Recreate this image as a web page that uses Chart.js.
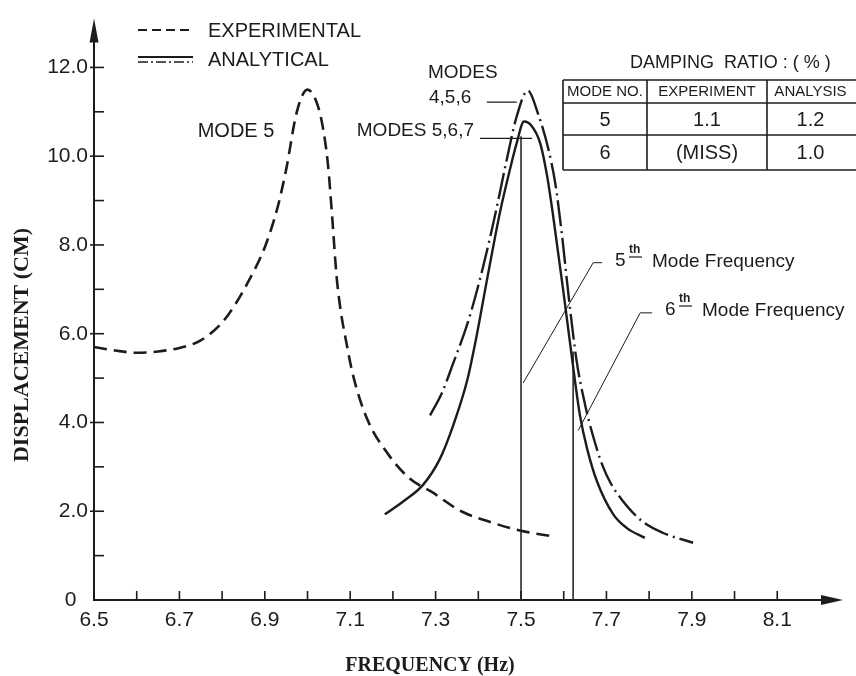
<!DOCTYPE html>
<html>
<head>
<meta charset="utf-8">
<script src="https://cdn.jsdelivr.net/npm/chart.js@4.4.1/dist/chart.umd.min.js"></script>
<style>
  body { margin: 0; background: #fff; }
</style>
</head>
<body>
<canvas id="chart" width="856" height="676"></canvas>
<script>
// tick labels
const xTickLabels = ['6.5', '6.7', '6.9', '7.1', '7.3', '7.5', '7.7', '7.9', '8.1'];
const yTickLabels = ['0', '2.0', '4.0', '6.0', '8.0', '10.0', '12.0'];

// experimental response (dashed)
const expFreq = [6.50, 6.55, 6.60, 6.65, 6.70, 6.75, 6.80, 6.83, 6.86, 6.90, 6.93, 6.95, 6.975, 7.00, 7.02, 7.035, 7.048, 7.058, 7.068, 7.078, 7.09, 7.107, 7.14, 7.19, 7.24, 7.29, 7.36, 7.43, 7.50, 7.57];
const expDisp = [5.70, 5.62, 5.57, 5.60, 5.68, 5.85, 6.25, 6.65, 7.15, 7.95, 8.85, 9.70, 11.0, 11.50, 11.25, 10.70, 9.80, 8.60, 7.30, 6.50, 5.85, 5.05, 4.07, 3.27, 2.73, 2.44, 2.00, 1.75, 1.56, 1.44];

// analytical, modes 4,5,6 (dash-dot)
const ana456Freq = [7.287, 7.315, 7.341, 7.376, 7.411, 7.441, 7.465, 7.490, 7.516, 7.540, 7.563, 7.580, 7.595, 7.612, 7.630, 7.650, 7.670, 7.690, 7.710, 7.737, 7.783, 7.833, 7.903];
const ana456Disp = [4.16, 4.67, 5.33, 6.27, 7.50, 8.75, 9.85, 10.90, 11.48, 10.95, 10.20, 9.40, 8.30, 6.80, 5.40, 4.40, 3.65, 3.05, 2.63, 2.25, 1.78, 1.51, 1.29];

// analytical, modes 5,6,7 (solid)
const ana567Freq = [7.181, 7.224, 7.271, 7.310, 7.341, 7.374, 7.395, 7.420, 7.451, 7.474, 7.490, 7.507, 7.525, 7.545, 7.561, 7.575, 7.603, 7.627, 7.638, 7.655, 7.678, 7.716, 7.748, 7.790];
const ana567Disp = [1.93, 2.22, 2.60, 3.18, 3.93, 4.95, 5.90, 7.20, 8.75, 9.70, 10.30, 10.78, 10.68, 10.29, 9.56, 8.67, 6.67, 4.89, 4.16, 3.40, 2.67, 1.93, 1.62, 1.40];

// mode frequency markers and leader lines
const mode5Freq = [7.5, 7.5];
const mode5Disp = [0, 10.45];
const mode6Freq = [7.622, 7.622];
const mode6Disp = [0, 5.6];
const lead5Freq = [7.505, 7.669, 7.69];
const lead5Disp = [4.89, 7.6, 7.6];
const lead6Freq = [7.634, 7.779, 7.807];
const lead6Disp = [3.82, 6.47, 6.47];
const lead456Freq = [7.42, 7.49];
const lead456Disp = [11.22, 11.22];
const lead567Freq = [7.404, 7.526];
const lead567Disp = [10.4, 10.4];

// damping table
const tableHead = ['MODE NO.', 'EXPERIMENT', 'ANALYSIS'];
const tableRows = [['5', '1.1', '1.2'], ['6', '(MISS)', '1.0']];

const ink = '#1c1c1c';
const pts = (xs, ys) => xs.map((v, i) => ({ x: v, y: ys[i] }));

function curve(xs, ys, dash, width) {
  return {
    data: pts(xs, ys),
    borderColor: ink,
    borderWidth: width,
    borderDash: dash,
    pointRadius: 0,
    tension: 0.4,
    cubicInterpolationMode: 'monotone',
  };
}
function straight(xs, ys, width) {
  return {
    data: pts(xs, ys),
    borderColor: ink,
    borderWidth: width,
    pointRadius: 0,
    tension: 0,
  };
}

function txt(ctx, s, x, y, font, align) {
  ctx.font = font;
  ctx.textAlign = align || 'left';
  ctx.textBaseline = 'middle';
  ctx.fillStyle = ink;
  ctx.fillText(s, x, y);
}
function seg(ctx, x1, y1, x2, y2) {
  ctx.beginPath();
  ctx.moveTo(x1, y1);
  ctx.lineTo(x2, y2);
  ctx.stroke();
}

const decor = {
  id: 'decor',
  afterDatasetsDraw(chart) {
    const { ctx, chartArea: a, scales: { x, y } } = chart;
    const sans = "'Liberation Sans', Arial, sans-serif";
    ctx.save();
    ctx.strokeStyle = ink;
    ctx.fillStyle = ink;

    // axes with arrows
    ctx.lineWidth = 2;
    seg(ctx, a.left, a.bottom, a.left, a.top + 15);
    seg(ctx, a.left - 1, a.bottom, a.right - 15, a.bottom);
    ctx.beginPath();
    ctx.moveTo(a.left, a.top);
    ctx.lineTo(a.left - 4.5, a.top + 24);
    ctx.lineTo(a.left + 4.5, a.top + 24);
    ctx.closePath();
    ctx.fill();
    ctx.beginPath();
    ctx.moveTo(a.right, a.bottom);
    ctx.lineTo(a.right - 22, a.bottom - 5);
    ctx.lineTo(a.right - 22, a.bottom + 5);
    ctx.closePath();
    ctx.fill();

    // inward tick marks
    ctx.lineWidth = 1.6;
    for (let k = 1; k <= 12; k++) {
      const py = y.getPixelForValue(k);
      seg(ctx, a.left - (k % 2 === 0 ? 4 : 0), py, a.left + 10, py);
    }
    for (let k = 66; k <= 81; k++) {
      const px = x.getPixelForValue(k / 10);
      seg(ctx, px, a.bottom, px, a.bottom - 9);
    }

    // axis titles
    ctx.save();
    ctx.translate(22, 345);
    ctx.rotate(-Math.PI / 2);
    txt(ctx, 'DISPLACEMENT (CM)', 0, 0, "bold 22px 'Liberation Serif', serif", 'center');
    ctx.restore();
    txt(ctx, 'FREQUENCY (Hz)', 430, 666, "bold 20px 'Liberation Serif', serif", 'center');

    // legend
    ctx.lineWidth = 2.2;
    ctx.setLineDash([9, 5]);
    seg(ctx, 138, 30, 193, 30);
    ctx.setLineDash([]);
    seg(ctx, 138, 57, 193, 57);
    ctx.lineWidth = 1.4;
    ctx.setLineDash([10, 3, 2, 3]);
    seg(ctx, 138, 62, 193, 62);
    ctx.setLineDash([]);
    txt(ctx, 'EXPERIMENTAL', 208, 31, '20px ' + sans);
    txt(ctx, 'ANALYTICAL', 208, 60, '20px ' + sans);

    // curve labels
    txt(ctx, 'MODE 5', 236, 131, '20px ' + sans, 'center');
    txt(ctx, 'MODES', 428, 73, '19px ' + sans);
    txt(ctx, '4,5,6', 429, 98, '19px ' + sans);
    txt(ctx, 'MODES 5,6,7', 474, 131, '19px ' + sans, 'right');

    // mode frequency labels
    const modeLabel = (num, x0, y0) => {
      txt(ctx, num, x0, y0, '19px ' + sans);
      txt(ctx, 'th', x0 + 14, y0 - 11, 'bold 12px ' + sans);
      ctx.lineWidth = 1.2;
      seg(ctx, x0 + 14, y0 - 4, x0 + 27, y0 - 4);
      txt(ctx, 'Mode Frequency', x0 + 37, y0 + 1, '19px ' + sans);
    };
    modeLabel('5', 615, 261);
    modeLabel('6', 665, 310);

    // damping ratio table
    txt(ctx, 'DAMPING  RATIO : ( % )', 630, 63, '18px ' + sans);
    const cols = [563, 647, 767, 862];
    const rows = [80, 103, 135, 170];
    ctx.lineWidth = 1.6;
    rows.forEach(r => seg(ctx, cols[0], r, cols[3], r));
    cols.forEach(c => seg(ctx, c, rows[0], c, rows[3]));
    tableHead.forEach((h, i) => txt(ctx, h, (cols[i] + cols[i + 1]) / 2 - (i === 2 ? 4 : 0), 92, '15px ' + sans, 'center'));
    tableRows.forEach((row, j) => {
      row.forEach((c, i) => txt(ctx, c, (cols[i] + cols[i + 1]) / 2 - (i === 2 ? 4 : 0), (rows[j + 1] + rows[j + 2]) / 2 + 1, '20px ' + sans, 'center'));
    });
    ctx.restore();
  },
};

const ctx = document.getElementById('chart').getContext('2d');
Chart.defaults.font.family = "'Liberation Sans', Arial, sans-serif";

const myChart = new Chart(ctx, {
  type: 'line',
  data: {
    datasets: [
      curve(expFreq, expDisp, [13, 7], 2.6),
      curve(ana456Freq, ana456Disp, [26, 5, 2, 5], 2.4),
      curve(ana567Freq, ana567Disp, [], 2.4),
      straight(mode5Freq, mode5Disp, 1.5),
      straight(mode6Freq, mode6Disp, 1.5),
      straight(lead5Freq, lead5Disp, 1),
      straight(lead6Freq, lead6Disp, 1),
      straight(lead456Freq, lead456Disp, 1.2),
      straight(lead567Freq, lead567Disp, 1.2),
    ],
  },
  options: {
    responsive: false,
    animation: false,
    devicePixelRatio: 1,
    layout: { padding: { top: 10, right: 13, left: 0, bottom: 0 } },
    plugins: { legend: { display: false }, tooltip: { enabled: false } },
    scales: {
      x: {
        type: 'linear',
        min: 6.5,
        max: 8.254,
        afterFit: (s) => { s.height = 76; },
        grid: { display: false, drawTicks: false },
        border: { display: false },
        ticks: {
          stepSize: 0.1,
          includeBounds: false,
          autoSkip: false,
          maxRotation: 0,
          padding: 8,
          color: ink,
          font: { size: 21 },
          callback: (v) => (xTickLabels.includes(v.toFixed(1)) ? v.toFixed(1) : ''),
        },
      },
      y: {
        min: 0,
        max: 13.1,
        afterFit: (s) => { s.width = 94; },
        grid: { display: false, drawTicks: false },
        border: { display: false },
        ticks: {
          stepSize: 1,
          includeBounds: false,
          autoSkip: false,
          padding: 6,
          color: ink,
          font: { size: 21 },
          callback: (v) => {
            const s = v === 0 ? '0' : v.toFixed(1);
            if (!yTickLabels.includes(s)) return '';
            return v === 0 ? s + '  ' : s; // the zero sits a bit further left
          },
        },
      },
    },
  },
  plugins: [decor],
});
</script>
</body>
</html>
